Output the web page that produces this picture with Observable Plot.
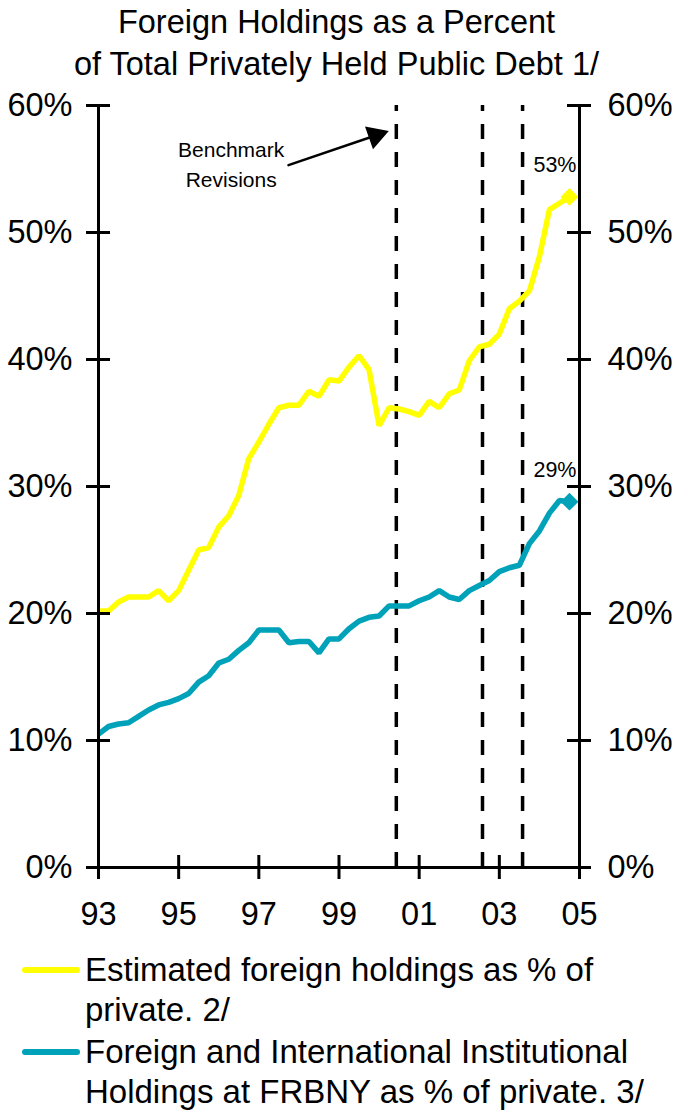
<!DOCTYPE html>
<html>
<head>
<meta charset="utf-8">
<script src="https://cdn.jsdelivr.net/npm/d3@7"></script>
<script src="https://cdn.jsdelivr.net/npm/@observablehq/plot@0.6"></script>
<style>
  html, body { margin: 0; padding: 0; background: #fff; }
  body { font-family: "Liberation Sans", Arial, sans-serif; color: #000; width: 673px; }
  #title { width: 673px; height: 88px; box-sizing: border-box; padding-top: 1px; text-align: center; font-size: 32.5px; line-height: 42px; }
  #chart svg { display: block; }
  #legend { font-size: 33px; line-height: 40px; }
  .entry { display: flex; align-items: flex-start; margin-bottom: 2px; }
  .swatch { width: 58px; height: 6px; border-radius: 3px; margin-left: 22px; margin-top: 17px; flex: none; }
  .label { margin-left: 5px; white-space: nowrap; }
</style>
</head>
<body>
<div id="title"></div>
<div id="chart"></div>
<div id="legend"></div>
<script>
// ---- data ----
const titleLines = ["Foreign Holdings as a Percent", "of Total Privately Held Public Debt 1/"];
const startYear = 1993;              // first quarter of the series (1993 Q1)
const yTicks = [0, 10, 20, 30, 40, 50, 60];
const xTicks = [1993, 1995, 1997, 1999, 2001, 2003, 2005];
const xTickLabels = ["93", "95", "97", "99", "01", "03", "05"];
const revisions = [2000.43, 2002.58, 2003.58];   // benchmark revision dates

// Estimated foreign holdings as % of private (quarterly, 1993Q1-2004Q4)
const foreignEstimated = [
  20.2, 20.2, 20.9, 21.3, 21.3, 21.3, 21.8, 21.0,
  21.8, 23.4, 25.0, 25.2, 26.8, 27.7, 29.3, 32.2,
  33.5, 34.9, 36.2, 36.4, 36.4, 37.5, 37.1, 38.4,
  38.3, 39.4, 40.3, 39.2, 34.8, 36.2, 36.1, 35.9,
  35.6, 36.7, 36.2, 37.3, 37.6, 39.9, 41.0, 41.2,
  42.0, 44.0, 44.6, 45.4, 48.1, 51.8, 52.3, 52.8
];
// Foreign and International Institutional holdings at FRBNY as % of private
const frbnyCustody = [
  10.5, 11.1, 11.3, 11.4, 11.9, 12.4, 12.8, 13.0,
  13.3, 13.7, 14.6, 15.1, 16.1, 16.4, 17.1, 17.7,
  18.7, 18.7, 18.7, 17.7, 17.8, 17.8, 16.9, 18.0,
  18.0, 18.8, 19.4, 19.7, 19.8, 20.6, 20.6, 20.6,
  21.0, 21.3, 21.8, 21.3, 21.1, 21.8, 22.2, 22.6,
  23.3, 23.6, 23.8, 25.5, 26.5, 27.9, 28.9, 28.8
];
const seriesNames = [
  ["Estimated foreign holdings as % of", "private. 2/"],
  ["Foreign and International Institutional", "Holdings at FRBNY as % of private. 3/"]
];
const seriesColors = ["#FFFF00", "#00A2B9"];
const noteText = "Benchmark\nRevisions";
const notePos = {x: 1996.31, y: 55.5};
const arrowFrom = {x: 1997.74, y: 55.3};
const arrowTo = {x: 2000.25, y: 58.0};

// ---- build tables ----
const seriesValues = [foreignEstimated, frbnyCustody];
const rows = seriesValues.flatMap((vals, s) =>
  vals.map((v, i) => ({series: s, t: startYear + i / 4, v})));
const lastPoints = seriesValues.map((vals, s) =>
  ({series: s, t: startYear + (vals.length - 1) / 4, v: vals[vals.length - 1]}));

// ---- title ----
document.getElementById("title").innerHTML = titleLines.join("<br>");

// ---- chart ----
const x0 = xTicks[0], x1 = xTicks[xTicks.length - 1];
const chart = Plot.plot({
  width: 673,
  height: 862,
  marginTop: 17,
  marginBottom: 83,
  marginLeft: 98,
  marginRight: 94,
  style: {fontFamily: '"Liberation Sans", Arial, sans-serif', fontSize: "32px", color: "#000", background: "#fff", overflow: "visible"},
  x: {domain: [x0, x1]},
  y: {domain: [0, 60]},
  marks: [
    // benchmark revision lines
    Plot.ruleX(revisions, {x: d => d, y1: () => 0, y2: () => 60, stroke: "#000", strokeWidth: 3.5, strokeDasharray: "15,13"}),
    // series
    Plot.line(rows, {x: "t", y: "v", z: "series", stroke: d => seriesColors[d.series], strokeWidth: 5.5, strokeLinejoin: "miter", strokeLinecap: "butt"}),
    Plot.dot(lastPoints, {x: "t", y: "v", symbol: "diamond2", r: 8, fill: d => seriesColors[d.series], stroke: "none"}),
    Plot.text(lastPoints, {x: "t", y: "v", text: d => Math.round(d.v) + "%", textAnchor: "end", dx: 7, dy: -32, fontSize: 21.5}),
    // axes lines
    Plot.ruleX([x0, x1], {x: d => d, y1: () => 0, y2: () => 60, stroke: "#000", strokeWidth: 3}),
    Plot.ruleY([0], {y: d => d, insetLeft: -11, insetRight: -11, stroke: "#000", strokeWidth: 3}),
    Plot.ruleY(yTicks, {y: d => d, x1: () => x0, x2: () => x0, insetLeft: -12, insetRight: -12, stroke: "#000", strokeWidth: 3}),
    Plot.ruleY(yTicks, {y: d => d, x1: () => x1, x2: () => x1, insetLeft: -12, insetRight: -12, stroke: "#000", strokeWidth: 3}),
    Plot.ruleX(xTicks, {x: d => d, y1: () => 0, y2: () => 0, insetTop: -12, insetBottom: -12, stroke: "#000", strokeWidth: 3}),
    Plot.axisY({ticks: yTicks, anchor: "left", tickSize: 0, tickPadding: 26, tickFormat: d => d + "%", fontSize: 32.5, label: null}),
    Plot.axisY({ticks: yTicks, anchor: "right", tickSize: 0, tickPadding: 28, tickFormat: d => d + "%", fontSize: 32.5, label: null}),
    Plot.axisX({ticks: xTicks, anchor: "bottom", tickSize: 0, tickPadding: 34, tickFormat: d => xTickLabels[xTicks.indexOf(d)], fontSize: 32.5, label: null}),
    // annotation
    Plot.text([notePos], {x: "x", y: "y", text: () => noteText, fontSize: 21, lineHeight: 1.43, textAnchor: "middle"}),
    Plot.arrow([{a: arrowFrom, b: arrowTo}], {x1: d => d.a.x, y1: d => d.a.y, x2: d => d.b.x, y2: d => d.b.y, stroke: "#000", strokeWidth: 2.5, headLength: 0, insetEnd: 12}),
    Plot.dot([arrowTo], {x: "x", y: "y", symbol: "triangle", r: 9, fill: "#000", stroke: "none", rotate: 70.7, dx: -13.5, dy: 4.7})
  ]
});
document.getElementById("chart").appendChild(chart);

// ---- legend ----
const legend = document.getElementById("legend");
seriesNames.forEach((lines, s) => {
  const e = document.createElement("div");
  e.className = "entry";
  const sw = document.createElement("div");
  sw.className = "swatch";
  sw.style.background = seriesColors[s];
  const lb = document.createElement("div");
  lb.className = "label";
  lb.innerHTML = lines.join("<br>");
  e.appendChild(sw); e.appendChild(lb);
  legend.appendChild(e);
});
</script>
</body>
</html>
